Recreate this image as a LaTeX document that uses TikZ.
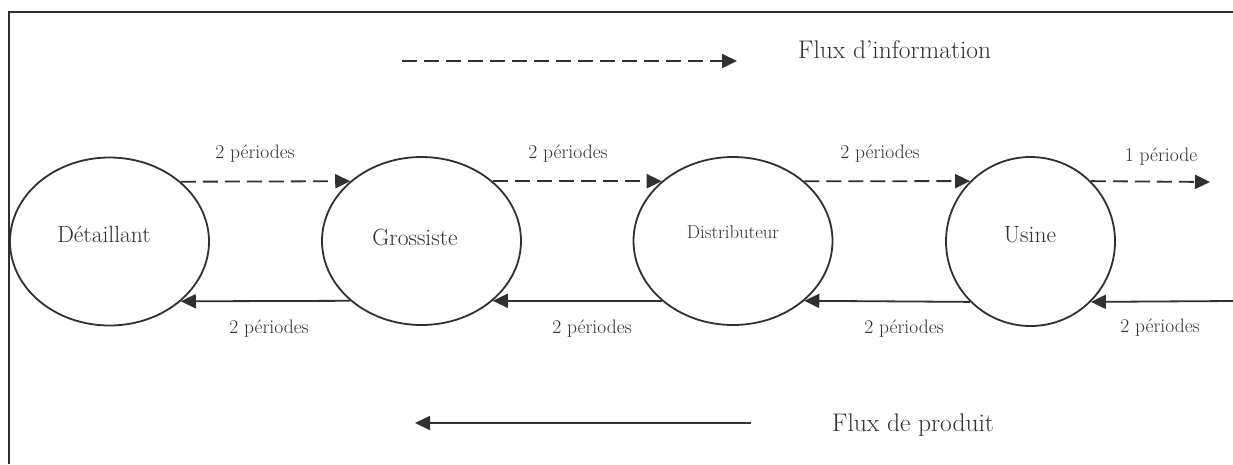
\documentclass[tikz,border=0pt]{standalone}
\usepackage{fontspec}
\usetikzlibrary{shapes.geometric,arrows.meta}
\definecolor{ink}{HTML}{303030}
\begin{document}
\begin{tikzpicture}[x=1pt,y=-1pt,
  ell/.style={ellipse, draw=ink, line width=1.8pt, minimum width=199pt, minimum height=168pt, inner sep=0pt},
  tip/.style={-{Triangle[length=15pt,width=14pt]}},
  info/.style={draw=ink, line width=1.8pt, dash pattern=on 15pt off 7pt, tip},
  prod/.style={draw=ink, line width=1.8pt, tip},
  lbl/.style={text=ink, font=\fontsize{19.5}{23}\selectfont, anchor=base, inner sep=0pt},
  nm/.style={text=ink, font=\fontsize{23.5}{28}\selectfont, anchor=base, inner sep=0pt},
  legend/.style={text=ink, font=\fontsize{25.5}{30}\selectfont, anchor=base west, inner sep=0pt}]
\useasboundingbox (0,0) rectangle (1233,464);
% frame
\draw[ink, line width=1.8pt] (1233,12) -- (9,12) -- (9,464);
% nodes
\node[ell] (det) at (109.5,241.5) {};
\node[ell] (gro) at (421.5,241) {};
\node[ell] (dis) at (733,241) {};
\node[ell, minimum width=169pt, minimum height=169pt] (usi) at (1030.5,241.5) {};
\node[nm] (detT) at (104,242) {Détaillant};
\node[nm] (groT) at (415,245) {Grossiste};
\node[nm, font=\fontsize{18.7}{22}\selectfont] (disT) at (733,238) {Distributeur};
\node[nm] (usiT) at (1030,242) {Usine};
% free ends
\coordinate (outI) at (1210,182);
\coordinate (inP) at (1233,301);
% information flow
\draw[info] (det.40) -- (gro.140);
\draw[info] (gro.40) -- (dis.140);
\draw[info] (dis.40) -- (usi.135);
\draw[info] (usi.45) -- (outI);
% product flow
\draw[prod] (gro.-140) -- (det.-40);
\draw[prod] (dis.-140) -- (gro.-40);
\draw[prod] (usi.-135) -- (dis.-40);
\draw[prod] (inP) -- (usi.-45);
% labels
\node[lbl] (t1) at (255,158) {2 périodes};
\node[lbl] (t2) at (568,158) {2 périodes};
\node[lbl] (t3) at (880,158) {2 périodes};
\node[lbl] (t4) at (1161,161) {1 période};
\node[lbl] (b1) at (269,333) {2 périodes};
\node[lbl] (b2) at (592,333) {2 périodes};
\node[lbl] (b3) at (904,333) {2 périodes};
\node[lbl] (b4) at (1160,332) {2 périodes};
% legend
\coordinate (li1) at (402,61);
\coordinate (li2) at (737,61);
\coordinate (lp1) at (751,423);
\coordinate (lp2) at (415,423);
\draw[info] (li1) -- (li2);
\draw[prod] (lp1) -- (lp2);
\node[legend] (legI) at (798,58) {Flux d’information};
\node[legend] (legP) at (832,431) {Flux de produit};
\end{tikzpicture}
\end{document}
